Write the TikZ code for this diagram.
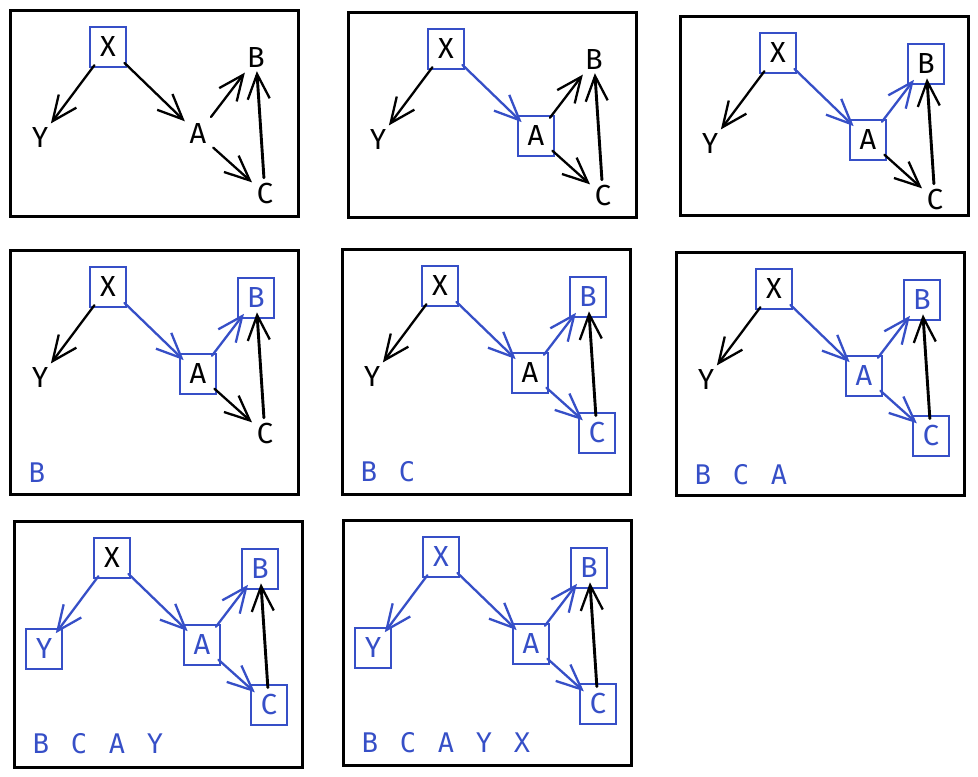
\documentclass[tikz,border=0pt]{standalone}
\usepackage{fontspec}
\setmainfont{Fira Sans}
\newfontfamily\listfont{DejaVu Sans Mono}
\usepackage{xcolor}
\usepackage{tikz}
\usetikzlibrary{arrows.meta, positioning}
\definecolor{dfsblue}{RGB}{54,79,199}
\tikzstyle{fresh} = [rectangle, minimum width=36pt, minimum height=40pt, inner sep=0pt, font=\fontsize{29}{30}\selectfont]
\tikzstyle{onstack} = [fresh, draw=dfsblue, line width=2.8pt]
\tikzstyle{finished} = [onstack, text=dfsblue]
\tikzstyle{link} = [line width=2.3pt, line cap=round, -{Straight Barb[length=25pt,width=22pt,line width=2.3pt]}, shorten >=-7pt, shorten <=-4pt]
\tikzstyle{walked} = [link, draw=dfsblue]
\tikzstyle{panel} = [draw, line width=3pt]
\tikzstyle{outtext} = [text=dfsblue, font=\listfont\fontsize{27}{28}\selectfont, inner sep=0pt]

\begin{document}
\begin{tikzpicture}[x=1pt, y=-1pt, node distance=1pt, on grid]
\useasboundingbox (0,0) rectangle (978,777);

\foreach \i/\ox/\oy/\h/\sx/\sy/\sa/\sb/\sc/\exy/\exa/\eab/\eac/\out in {
  1/10/10/206/onstack/fresh/fresh/fresh/fresh/link/link/link/link/{},
  2/348/12/205/onstack/fresh/onstack/fresh/fresh/link/walked/link/link/{},
  3/680/16/199/onstack/fresh/onstack/onstack/fresh/link/walked/walked/link/{},
  4/10/250/244/onstack/fresh/onstack/finished/fresh/link/walked/walked/link/{B},
  5/342/249/245/onstack/fresh/onstack/finished/finished/link/walked/walked/walked/{B,C},
  6/676/252/243/onstack/fresh/finished/finished/finished/link/walked/walked/walked/{B,C,A},
  7/14/521/246/onstack/finished/finished/finished/finished/walked/walked/walked/walked/{B,C,A,Y},
  8/343/520/245/finished/finished/finished/finished/finished/walked/walked/walked/walked/{B,C,A,Y,X}} {
  \draw [panel] (\ox,\oy) rectangle ++(288,\h);

  \node (x\i) [\sx] at (\ox+98,\oy+37) {X};
  \node (y\i) [\sy, below left=91pt and 68pt of x\i] {Y};
  \node (a\i) [\sa, below right=87pt and 90pt of x\i] {A};
  \node (b\i) [\sb, above right=76pt and 58pt of a\i] {B};
  \node (c\i) [\sc, below right=60pt and 67pt of a\i] {C};

  \draw [\exy] (x\i) -- (y\i);
  \draw [\exa] (x\i) -- (a\i);
  \draw [\eab] (a\i) -- (b\i);
  \draw [\eac] (a\i) -- (c\i);
  \draw [link, line width=2.9pt] (c\i) -- (b\i);

  % finished list
  \foreach \c [count=\k] in \out
    \node (o\i\k) [outtext] at (\ox+27+38*\k-38,\oy+223) {\c};
}

\end{tikzpicture}
\end{document}
